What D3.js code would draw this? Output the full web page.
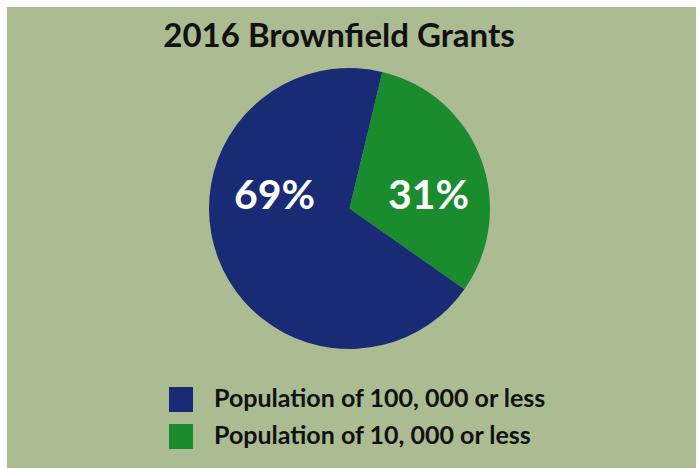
<!DOCTYPE html>
<html>
<head>
<meta charset="utf-8">
<script src="https://cdn.jsdelivr.net/npm/d3@7"></script>
<style>
  body { margin: 0; background: #fff; }
  svg { display: block; }
</style>
</head>
<body>
<div id="chart"></div>
<script>
const categories = ['Population of 10, 000 or less', 'Population of 100, 000 or less']
const values = [31, 69]
const labels = ['31%', '69%']
const colors = ['#1a8c2e', '#1a2b75']
const legendOrder = ['Population of 100, 000 or less', 'Population of 10, 000 or less']

const width = 697
const height = 468
const font = "Lato, 'Open Sans', sans-serif"

const svg = d3.select('#chart').append('svg')
  .attr('width', width)
  .attr('height', height)

svg.append('rect')
  .attr('x', 7).attr('y', 7)
  .attr('width', width - 8).attr('height', height - 7)
  .attr('fill', '#abbc92')

svg.append('text')
  .text('2016 Brownfield Grants')
  .attr('x', 339).attr('y', 47)
  .attr('text-anchor', 'middle')
  .attr('font-family', font)
  .attr('font-weight', 700)
  .attr('font-size', '33px')
  .attr('fill', '#111')

const color = d3.scaleOrdinal().domain(categories).range(colors)
const radius = 140.5
const start = 13.5 * Math.PI / 180

const pie = d3.pie()
  .sort(null)
  .value(d => d.value)
  .startAngle(start)
  .endAngle(start + 2 * Math.PI)

const data = categories.map((c, i) => ({ name: c, value: values[i], label: labels[i] }))
const arcs = pie(data)
const arc = d3.arc().innerRadius(0).outerRadius(radius)

const g = svg.append('g').attr('transform', 'translate(349.5,208.5)')

g.selectAll('path')
  .data(arcs)
  .join('path')
  .attr('d', arc)
  .attr('fill', d => color(d.data.name))

g.selectAll('text')
  .data(arcs)
  .join('text')
  .attr('x', d => d.data.value > 50 ? -75 : 79)
  .attr('y', 0.5)
  .attr('text-anchor', 'middle')
  .attr('font-family', font)
  .attr('font-weight', 700)
  .attr('font-size', '41px')
  .attr('fill', '#fff')
  .text(d => d.data.label)

const legend = svg.append('g').attr('transform', 'translate(169,387)')
const item = legend.selectAll('g')
  .data(legendOrder)
  .join('g')
  .attr('transform', (d, i) => `translate(0,${i * 37})`)

item.append('rect')
  .attr('width', 24).attr('height', 25)
  .attr('fill', d => color(d))

item.append('text')
  .attr('x', 45).attr('y', 19.5)
  .attr('font-family', font)
  .attr('font-weight', 700)
  .attr('font-size', '25px')
  .attr('fill', '#111')
  .text(d => d)
</script>
</body>
</html>
